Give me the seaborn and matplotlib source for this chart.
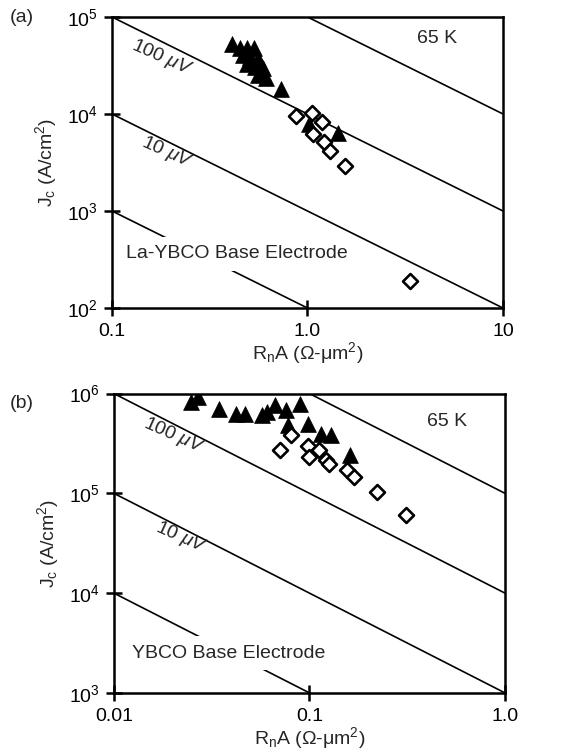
import numpy as np
import pandas as pd
import matplotlib
matplotlib.use("Agg")
import matplotlib.pyplot as plt
import seaborn as sns

# ---- panel (a): La-YBCO base electrode ----
a_tri_rna = [0.41, 0.45, 0.49, 0.53, 0.47, 0.51, 0.56, 0.49, 0.54, 0.59, 0.56, 0.61, 0.73, 1.02, 1.43]
a_tri_jc = [52400, 48400, 48400, 48400, 40100, 38600, 37100, 33100, 30700, 29500, 25300, 23500, 18000, 7900, 6400]
a_dia_rna = [0.87, 1.05, 1.19, 1.07, 1.22, 1.30, 1.56, 3.33]
a_dia_jc = [9600, 10200, 8300, 6200, 5100, 4200, 2900, 190]
a_xticks = [0.1, 1.0, 10]
a_xticklabels = ["0.1", "1.0", "10"]
a_yticks = [1e2, 1e3, 1e4, 1e5]
a_yticklabels = ["$10^{2}$", "$10^{3}$", "$10^{4}$", "$10^{5}$"]

# ---- panel (b): YBCO base electrode ----
b_tri_rna = [0.0248, 0.0269, 0.0345, 0.0419, 0.047, 0.057, 0.0605, 0.0667, 0.0762, 0.0778,
             0.0891, 0.0982, 0.1147, 0.1285, 0.162]
b_tri_jc = [826000, 926000, 708000, 631000, 631000, 607000, 656000, 765000, 681000, 482000,
            794000, 501000, 398000, 383000, 242000]
b_dia_rna = [0.0706, 0.0809, 0.098, 0.100, 0.112, 0.121, 0.126, 0.156, 0.169, 0.221, 0.313]
b_dia_jc = [271000, 383000, 297000, 233000, 271000, 215000, 195000, 171000, 145000, 104000, 61000]
b_xticks = [0.01, 0.1, 1.0]
b_xticklabels = ["0.01", "0.1", "1.0"]
b_yticks = [1e3, 1e4, 1e5, 1e6]
b_yticklabels = ["$10^{3}$", "$10^{4}$", "$10^{5}$", "$10^{6}$"]

# constant IcRn lines: Jc * RnA (A/cm^2 * Ohm-um^2); 1e4 -> 100 uV
icrn_products = [1e2, 1e3, 1e4, 1e5]

sns.set_style("ticks")
plt.rcParams["font.family"] = ["Liberation Sans", "DejaVu Sans"]
plt.rcParams["mathtext.fontset"] = "custom"
plt.rcParams["mathtext.rm"] = "Liberation Sans"
plt.rcParams["mathtext.it"] = "Liberation Sans:italic"
plt.rcParams["mathtext.bf"] = "Liberation Sans:bold"

fig = plt.figure(figsize=(5.67, 7.54), dpi=100)
ax_a = fig.add_axes([0.1975, 0.5915, 0.6896, 0.3860])
ax_b = fig.add_axes([0.2010, 0.0810, 0.6897, 0.3970])

FS = 14


def draw_panel(ax, tri_x, tri_y, dia_x, dia_y, xlim, ylim, xticks, xtl, yticks, ytl):
    ax.set_xscale("log")
    ax.set_yscale("log")
    xs = np.array(xlim)
    for p in icrn_products:
        line = pd.DataFrame({"RnA": xs, "Jc": p / xs})
        sns.lineplot(data=line, x="RnA", y="Jc", color="black", lw=1.2, ax=ax, zorder=1)
    tri = pd.DataFrame({"RnA": tri_x, "Jc": tri_y})
    dia = pd.DataFrame({"RnA": dia_x, "Jc": dia_y})
    sns.scatterplot(data=tri, x="RnA", y="Jc", marker="^", s=130, color="black",
                    edgecolor="black", linewidth=0.5, ax=ax, zorder=3)
    sns.scatterplot(data=dia, x="RnA", y="Jc", marker="D", s=58, color="white",
                    edgecolor="black", linewidth=1.9, ax=ax, zorder=4)
    ax.set_xlim(*xlim)
    ax.set_ylim(*ylim)
    ax.set_xticks(xticks)
    ax.set_xticklabels(xtl)
    ax.set_yticks(yticks)
    ax.set_yticklabels(ytl)
    ax.minorticks_off()
    ax.tick_params(axis="both", which="major", direction="inout", length=12, width=1.8,
                   labelsize=FS, color="black", labelcolor="black")
    ax.tick_params(axis="x", pad=5)
    ax.tick_params(axis="y", pad=4)
    for s in ax.spines.values():
        s.set_visible(True)
        s.set_linewidth(1.8)
        s.set_color("black")
    ax.set_xlabel("R$_\\mathrm{n}$A (Ω-μm$^2$)", fontsize=FS, labelpad=0)
    ax.set_ylabel("J$_\\mathrm{c}$ (A/cm$^2$)", fontsize=FS, labelpad=6)


draw_panel(ax_a, a_tri_rna, a_tri_jc, a_dia_rna, a_dia_jc, (0.1, 10), (1e2, 1e5),
           a_xticks, a_xticklabels, a_yticks, a_yticklabels)
draw_panel(ax_b, b_tri_rna, b_tri_jc, b_dia_rna, b_dia_jc, (0.01, 1.0), (1e3, 1e6),
           b_xticks, b_xticklabels, b_yticks, b_yticklabels)

# annotations, panel (a)
ax_a.text(0.180, 38000, "100 $\\mu V$", rotation=-24, ha="center", va="center", fontsize=FS)
ax_a.text(0.192, 4000, "10 $\\mu V$", rotation=-24, ha="center", va="center", fontsize=FS)
ax_a.text(4.6, 60000, "65 K", ha="center", va="center", fontsize=FS)
ax_a.text(0.433, 362, "La-YBCO Base Electrode", ha="center", va="center", fontsize=FS,
          zorder=5, bbox=dict(facecolor="white", edgecolor="none", pad=6))

# annotations, panel (b)
ax_b.text(0.0202, 380000, "100 $\\mu V$", rotation=-24, ha="center", va="center", fontsize=FS)
ax_b.text(0.0220, 36500, "10 $\\mu V$", rotation=-24, ha="center", va="center", fontsize=FS)
ax_b.text(0.508, 521000, "65 K", ha="center", va="center", fontsize=FS)
ax_b.text(0.0385, 2510, "YBCO Base Electrode", ha="center", va="center", fontsize=FS,
          zorder=5, bbox=dict(facecolor="white", edgecolor="none", pad=6))

fig.text(22 / 567, 1 - 18 / 754, "(a)", ha="center", va="center", fontsize=FS)
fig.text(22 / 567, 1 - 404 / 754, "(b)", ha="center", va="center", fontsize=FS)

fig.savefig("out.png", dpi=100, facecolor="white")
